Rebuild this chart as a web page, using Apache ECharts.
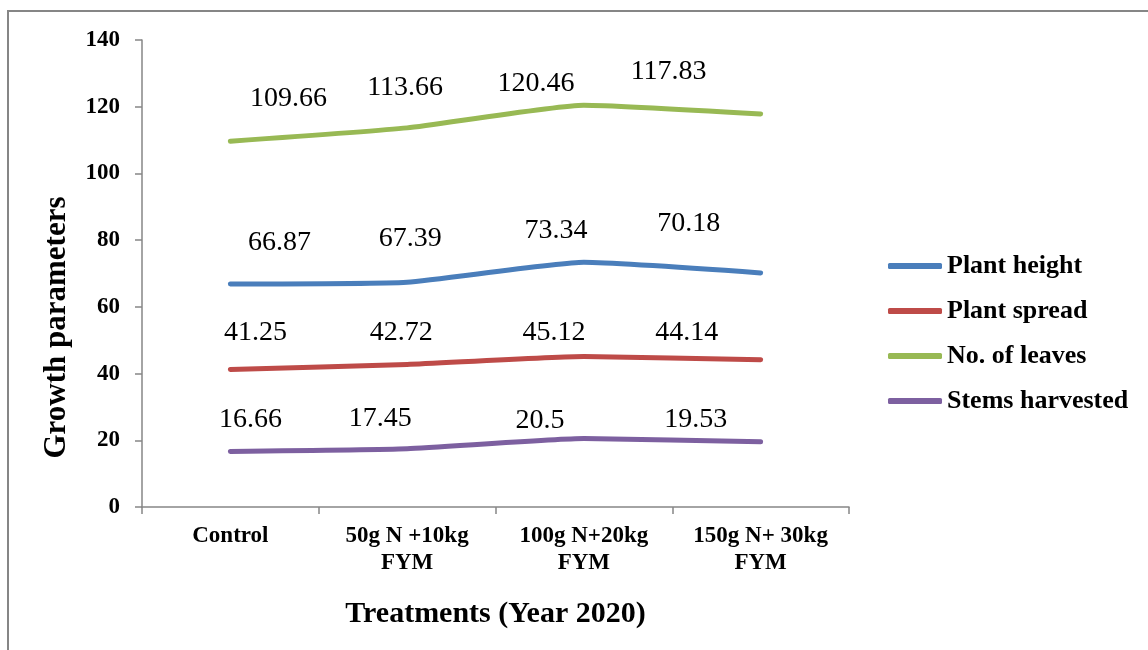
<!DOCTYPE html>
<html>
<head>
<meta charset="utf-8">
<script src="https://cdn.jsdelivr.net/npm/echarts@6/dist/echarts.min.js"></script>
<style>
  html, body { margin: 0; padding: 0; background: #fff; }
  #growth-chart { width: 1148px; height: 650px; }
</style>
</head>
<body>
<div id="growth-chart"></div>
<script>
  var treatments = ['Control', '50g N +10kg\nFYM', '100g N+20kg\nFYM', '150g N+ 30kg\nFYM'];
  var plantHeight = [66.87, 67.39, 73.34, 70.18];
  var plantSpread = [41.25, 42.72, 45.12, 44.14];
  var noOfLeaves = [109.66, 113.66, 120.46, 117.83];
  var stemsHarvested = [16.66, 17.45, 20.5, 19.53];
  var yTicks = { min: 0, max: 140, step: 20 };

  var serif = '"Times New Roman", "Liberation Serif", serif';

  // where each value label sits relative to its point (placed by hand in the original)
  var labelShift = {
    'Plant height': [[49, -41], [3, -44], [-28, -32], [-72, -49]],
    'Plant spread': [[25, -37], [-6, -32], [-30, -24], [-74, -27]],
    'No. of leaves': [[58, -43], [-2, -40], [-48, -22], [-92, -42]],
    'Stems harvested': [[20, -32], [-27, -30], [-44, -18], [-65, -22]]
  };

  function makeSeries(name, values, color) {
    return {
      name: name,
      type: 'line',
      symbol: 'circle',
      symbolSize: 1,
      showSymbol: true,
      smooth: 0.15,
      itemStyle: { color: color },
      lineStyle: { color: color, width: 5, cap: 'round', join: 'round' },
      label: {
        show: true,
        position: 'inside',
        align: 'center',
        verticalAlign: 'middle',
        color: '#000',
        fontFamily: serif,
        fontSize: 28
      },
      emphasis: { disabled: true },
      data: values.map(function (v, i) {
        return { value: v, label: { offset: labelShift[name][i] } };
      })
    };
  }

  var axisGrey = '#868686';

  var option = {
    animation: false,
    backgroundColor: '#fff',
    textStyle: { fontFamily: serif },
    graphic: [{
      type: 'rect',
      shape: { x: 8, y: 11, width: 1200, height: 700 },
      style: { fill: 'none', stroke: axisGrey, lineWidth: 2 },
      silent: true
    }],
    grid: { left: 142, right: 299, top: 40, bottom: 143 },
    legend: {
      orient: 'vertical',
      left: 888,
      top: 253,
      padding: 0,
      icon: 'roundRect',
      itemWidth: 54,
      itemHeight: 6,
      itemGap: 19,
      textStyle: {
        fontFamily: serif,
        fontWeight: 'bold',
        fontSize: 26,
        lineHeight: 25,
        color: '#000'
      },
      data: ['Plant height', 'Plant spread', 'No. of leaves', 'Stems harvested']
    },
    xAxis: {
      type: 'category',
      data: treatments,
      boundaryGap: true,
      name: 'Treatments (Year 2020)',
      nameLocation: 'middle',
      nameGap: 92,
      nameTextStyle: { fontFamily: serif, fontWeight: 'bold', fontSize: 30, color: '#000' },
      axisLine: { lineStyle: { color: axisGrey, width: 1.5 } },
      axisTick: { show: true, length: 7, alignWithLabel: false, lineStyle: { color: axisGrey, width: 1.5 } },
      axisLabel: {
        interval: 0,
        margin: 16,
        fontFamily: serif,
        fontWeight: 'bold',
        fontSize: 23,
        lineHeight: 27,
        color: '#000'
      },
      splitLine: { show: false }
    },
    yAxis: {
      type: 'value',
      min: yTicks.min,
      max: yTicks.max,
      interval: yTicks.step,
      name: 'Growth parameters',
      nameLocation: 'middle',
      nameGap: 70,
      nameTextStyle: {
        fontFamily: serif, fontWeight: 'bold', fontSize: 31, color: '#000',
        padding: [0, 108, 0, 0]
      },
      axisLine: { show: true, lineStyle: { color: axisGrey, width: 1.5 } },
      axisTick: { show: true, length: 7, lineStyle: { color: axisGrey, width: 1.5 } },
      axisLabel: {
        margin: 22,
        fontFamily: serif,
        fontWeight: 'bold',
        fontSize: 23,
        color: '#000'
      },
      splitLine: { show: false }
    },
    series: [
      makeSeries('Plant height', plantHeight, '#4a7ebb'),
      makeSeries('Plant spread', plantSpread, '#be4b48'),
      makeSeries('No. of leaves', noOfLeaves, '#98b954'),
      makeSeries('Stems harvested', stemsHarvested, '#7d60a0')
    ]
  };

  var myChart = echarts.init(document.getElementById('growth-chart'));
  myChart.setOption(option);
</script>
</body>
</html>
